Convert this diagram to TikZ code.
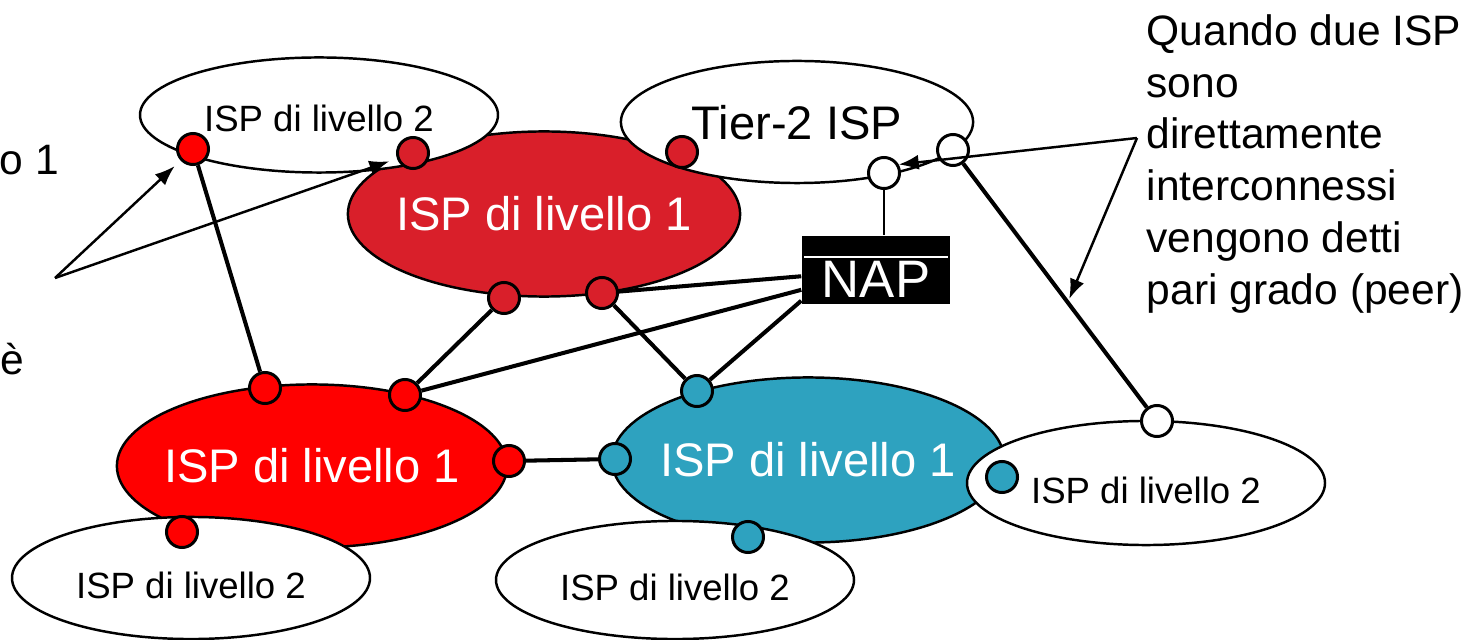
\documentclass[tikz,border=0pt]{standalone}
\usepackage{fontspec}
\setmainfont{Liberation Sans}
\usetikzlibrary{arrows.meta}
\usetikzlibrary{shapes}
\usetikzlibrary{calc}

\definecolor{livred}{RGB}{217,31,42}
\definecolor{brightred}{RGB}{255,0,0}
\definecolor{livteal}{RGB}{46,162,191}

\begin{document}
\begin{tikzpicture}[
		x=0.01cm,
		y=-0.01cm,
		>={Latex[length=0.2cm,width=0.15cm]},
		tier1/.style={ellipse, draw, line width=0.7pt, text=white, inner sep=0pt, minimum width=3.92cm, minimum height=1.65cm, font=\fontsize{13.4}{16}\selectfont},
		tier2/.style={ellipse, draw, fill=white, line width=0.7pt, text height=0.4cm, text depth=0cm, minimum width=3.52cm, minimum height=1.2cm, font=\fontsize{10.4}{12}\selectfont},
		port/.style={circle, draw, line width=0.85pt, minimum size=0.31cm, inner sep=0pt},
		link/.style={line width=1.15pt},
		arr/.style={->, line width=0.7pt},
		note/.style={font=\fontsize{12.1}{14.7}\selectfont, inner sep=0pt},
	]
	\useasboundingbox (0,0) rectangle (1479,640);

	% ISP di livello 1
	\node[tier1, fill=livred] (t1a) at (544,214) {\makebox[0pt]{ISP di livello 1}};
	\node[tier1, fill=brightred, minimum width=3.9cm, minimum height=1.63cm] (t1b) at (312,466) {\makebox[0pt]{ISP di livello 1}};
	\node[tier1, fill=livteal] (t1c) at (808,460) {\makebox[0pt]{ISP di livello 1}};

	% ISP di livello 2
	\node[tier2, minimum width=3.54cm, minimum height=1.15cm, text height=0.33cm] (t2a) at (319,115) {ISP di livello 2};
	\node[tier2, minimum height=1.22cm, text height=0.34cm, font=\fontsize{13.4}{16}\selectfont] (tier) at (797,122) {Tier-2 ISP};
	\node[tier2, minimum height=1.22cm] (t2b) at (191,578) {ISP di livello 2};
	\node[tier2, minimum width=3.54cm, minimum height=1.18cm] (t2c) at (675,580) {ISP di livello 2};
	\node[tier2, minimum height=1.24cm] (t2d) at (1146,483) {ISP di livello 2};

	% punti di connessione
	\node[port, fill=brightred] (r1) at (193,149) {};
	\node[port, fill=brightred] (r2) at (265,388) {};
	\node[port, fill=brightred] (r3) at (405,395) {};
	\node[port, fill=brightred] (r4) at (509,461) {};
	\node[port, fill=brightred] (r5) at (182,532) {};
	\node[port, fill=livred] (d1) at (413,153) {};
	\node[port, fill=livred] (d2) at (682,152) {};
	\node[port, fill=livred] (d3) at (504,298) {};
	\node[port, fill=livred] (d4) at (602,293) {};
	\node[port, fill=livteal] (c1) at (697,391) {};
	\node[port, fill=livteal] (c2) at (615,459) {};
	\node[port, fill=livteal] (c3) at (1002,477) {};
	\node[port, fill=livteal] (c4) at (748,537) {};
	\node[port, fill=white] (w1) at (884,173) {};
	\node[port, fill=white] (w2) at (953,150) {};
	\node[port, fill=white] (w3) at (1157,421) {};

	% NAP
	\node[fill=black, text=white, minimum width=1.48cm, inner xsep=0pt, inner ysep=0pt, text height=0.61cm, text depth=0.07cm, font=\fontsize{15}{18}\selectfont] (nap) at (876,270) {NAP};
	\draw[white, line width=0.5pt] ([xshift=0.03cm,yshift=-0.22cm]nap.north west) -- ([xshift=-0.03cm,yshift=-0.22cm]nap.north east);

	% collegamenti
	\draw[link] (r1) -- (r2);
	\draw[link] (d3) -- (r3);
	\draw[link] (d4) -- (c1);
	\draw[link] (d4) -- (nap);
	\draw[link] (r3) -- (nap);
	\draw[link] (c1) -- ([yshift=0.04cm]nap.south west);
	\draw[link] (r4) -- (c2);
	\draw[link] (w2) -- (w3);
	\draw[line width=0.7pt] (w1) -- (w1 |- nap.north);

	% frecce
	\coordinate (leftapex) at (55,278);
	\coordinate (peerapex) at (1137,138);
	\coordinate (peertip) at ($(w2)!0.55!(w3)$);
	\draw[arr, shorten >=0.08cm] (leftapex) -- (r1);
	\draw[arr, shorten >=0.08cm] (leftapex) -- (d1);
	\draw[arr] (peerapex) -- (w1.30);
	\draw[arr] (peerapex) -- ([xshift=0.04cm]peertip);

	% testo
	\node[note, anchor=north west, align=left] (peernote) at (1146,14) {Quando due ISP\\sono\\direttamente\\interconnessi\\vengono detti\\pari grado (peer)};
	\node[note, anchor=base west] (leftnote1) at (-1,175) {o 1};
	\node[note, anchor=base west] (leftnote2) at (0,375) {è};
\end{tikzpicture}
\end{document}
